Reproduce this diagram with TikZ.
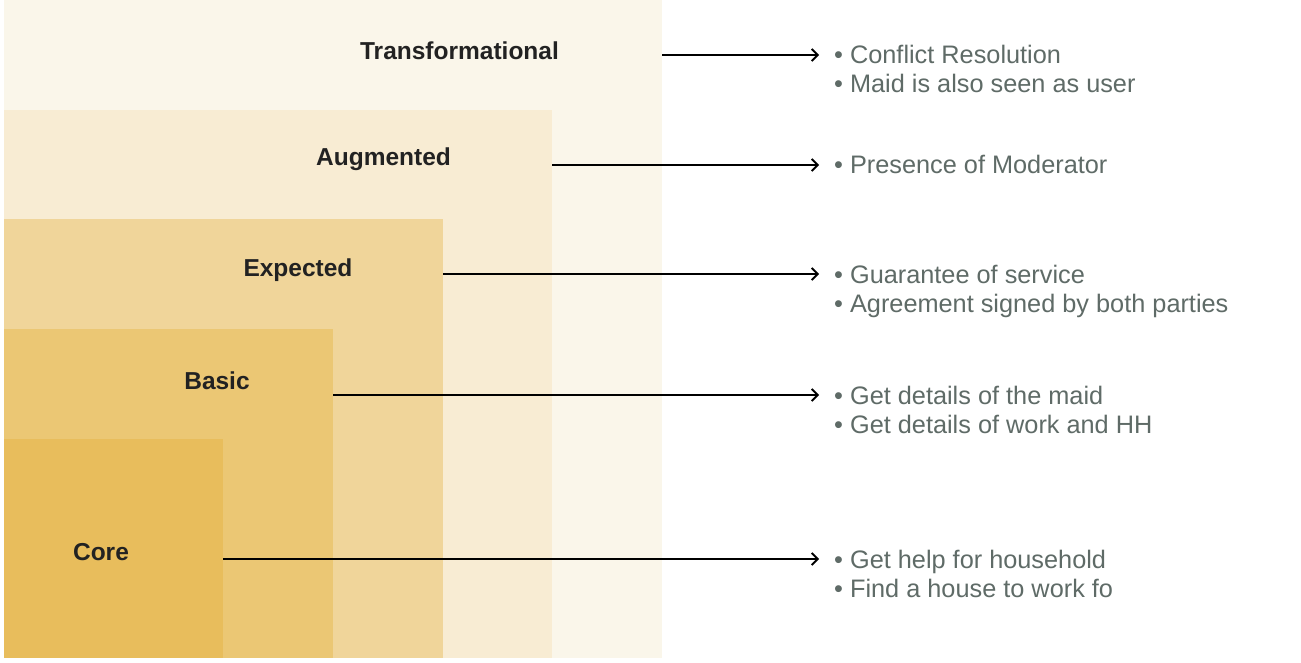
\documentclass[tikz,border=0pt]{standalone}
\usepackage{fontspec}
\setmainfont{Liberation Sans}
\usetikzlibrary{arrows.meta}
\definecolor{cTrans}{RGB}{250,246,234}
\definecolor{cAug}{RGB}{248,236,211}
\definecolor{cExp}{RGB}{240,213,154}
\definecolor{cBasic}{RGB}{235,199,116}
\definecolor{cCore}{RGB}{232,189,92}
\definecolor{cLabel}{RGB}{34,34,34}
\definecolor{cText}{RGB}{95,107,103}
\tikzset{
  lvl/.style={anchor=base, inner sep=0pt, text=cLabel, font=\fontsize{24.5}{26}\selectfont\bfseries},
  item/.style={anchor=base west, inner sep=0pt, text=cText, font=\fontsize{25.3}{29}\selectfont},
  link/.style={line width=2pt, -{Straight Barb[length=6pt,width=12pt,line width=1.8pt]}}
}
\begin{document}
\begin{tikzpicture}[x=1pt,y=-1pt]
\useasboundingbox[fill=white] (0,0) rectangle (1301,663);
% layers
\fill[cTrans] (4,0) rectangle (662,658);
\fill[cAug] (4,110) rectangle (552,658);
\fill[cExp] (4,219) rectangle (443,658);
\fill[cBasic] (4,329) rectangle (333,658);
\fill[cCore] (4,439) rectangle (223,658);
\coordinate (eT) at (662,55);
\coordinate (eA) at (552,165);
\coordinate (eE) at (443,274);
\coordinate (eB) at (333,395);
\coordinate (eC) at (223,559);
% labels
\node[lvl] (lT) at (459.5,59.5) {Transformational};
\node[lvl] (lA) at (383.5,166) {Augmented};
\node[lvl] (lE) at (298,276) {Expected};
\node[lvl] (lB) at (217,389) {Basic};
\node[lvl] (lC) at (101,560) {Core};
% items
\node[item] (t1) at (834,64) {• Conflict Resolution};
\node[item] (t2) at (834,93) {• Maid is also seen as user};
\node[item] (a1) at (834,174) {• Presence of Moderator};
\node[item] (x1) at (834,283) {• Guarantee of service};
\node[item] (x2) at (834,312) {• Agreement signed by both parties};
\node[item] (b1) at (834,404) {• Get details of the maid};
\node[item] (b2) at (834,433) {• Get details of work and HH};
\node[item] (c1) at (834,568) {• Get help for household};
\node[item] (c2) at (834,597) {• Find a house to work fo};
\coordinate (hT) at (819,55);
\coordinate (hA) at (819,165);
\coordinate (hE) at (819,274);
\coordinate (hB) at (819,395);
\coordinate (hC) at (819,559);
% connectors
\draw[link] (eT) -- (hT);
\draw[link] (eA) -- (hA);
\draw[link] (eE) -- (hE);
\draw[link] (eB) -- (hB);
\draw[link] (eC) -- (hC);
\end{tikzpicture}
\end{document}
